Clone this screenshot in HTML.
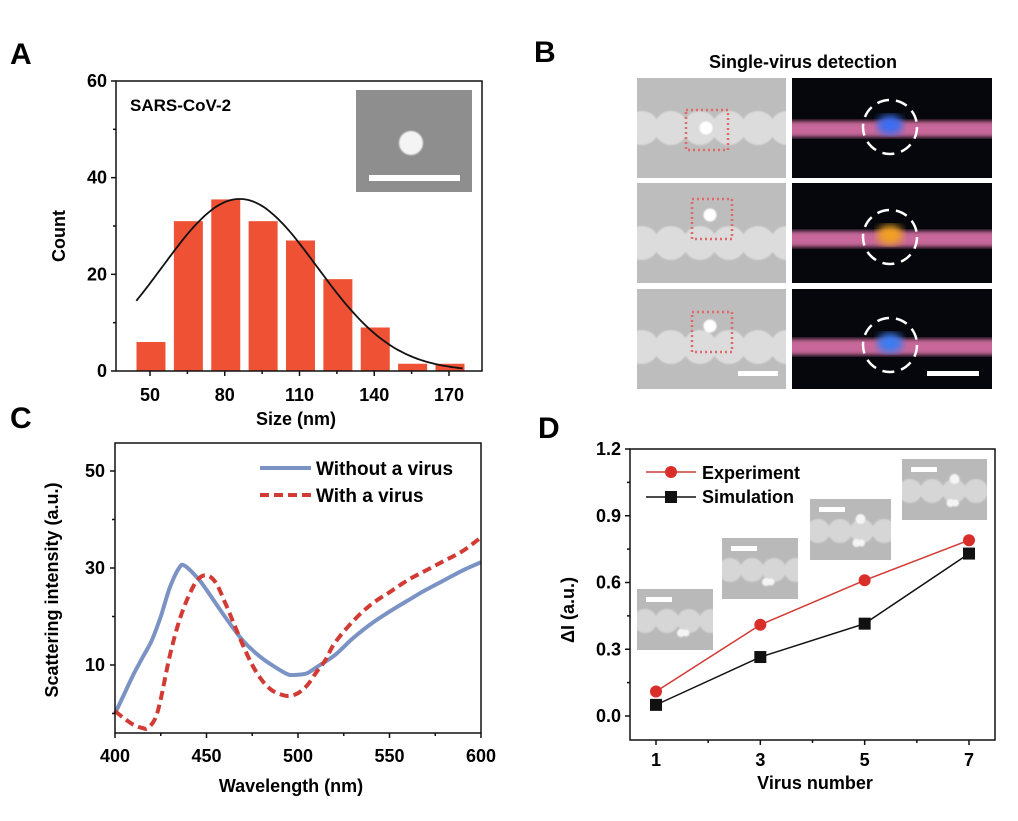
<!DOCTYPE html>
<html><head><meta charset="utf-8">
<style>
html,body{margin:0;padding:0;background:#fff;}
svg{display:block;font-family:"Liberation Sans",Arial,sans-serif;font-weight:bold;}
</style></head>
<body>
<svg id="fig" width="1018" height="821" viewBox="0 0 1018 821" xmlns="http://www.w3.org/2000/svg">
<defs>
<filter id="blur2"><feGaussianBlur stdDeviation="2"/></filter>
<filter id="blur4"><feGaussianBlur stdDeviation="4"/></filter>
<filter id="blur1"><feGaussianBlur stdDeviation="0.8"/></filter>
</defs>
<rect width="1018" height="821" fill="#fff"/>
<text x="10" y="64" font-size="30">A</text>
<text x="534" y="62" font-size="30">B</text>
<text x="10" y="428" font-size="30">C</text>
<text x="538" y="438" font-size="30">D</text>
<g id="pa"></g>
<g id="pb"></g>
<g id="pc"></g>
<g id="pd"></g>
</svg>
<script>
// ---------- Panel A data ----------
const sizeBins = [50, 65, 80, 95, 110, 125, 140, 155, 170];
const sizeCounts = [6, 31, 35.5, 31, 27, 19, 9, 1.5, 1.5];
const sizeTicks = [50, 80, 110, 140, 170];
const countTicks = [0, 20, 40, 60];
const fitMean = [86];
const fitSigma = [31];
const fitAmp = [35.6];
// ---------- Panel C data ----------
const wlBlue = [400,405,410,415,420,425,430,435,438,445,450,460,470,480,490,495,500,505,510,520,530,540,550,560,570,580,590,600];
const intBlue = [0,4,8,11.5,15,20,26,30,30.5,28,25.5,20,15,11.5,9,8,8,8.3,9.5,12,15.5,18.5,21,23.3,25.5,27.5,29.5,31.2];
const wlRed = [400,405,410,415,418,422,425,430,435,440,445,450,455,460,465,470,475,480,485,490,495,500,505,510,515,520,530,540,550,560,570,580,590,600];
const intRed = [0.5,-1,-2.3,-3,-3,-1,3,12,19,24,27.5,28.5,27,23,18.5,14,10,7,5,4,3.6,4.2,5.8,8.5,11,14.5,19,22.5,25,27.5,29.5,31.5,33.5,36.3];
const wlTicks = [400,450,500,550,600];
const intTicks = [10,30,50];
// ---------- Panel D data ----------
const virusNumbers = [1,3,5,7];
const experimentVals = [0.11,0.41,0.61,0.79];
const simulationVals = [0.05,0.265,0.415,0.73];
const dTicksX = [1,3,5,7];
const dTicksY = [0.0,0.3,0.6,0.9,1.2];
const dTickLabelsY = ["0.0","0.3","0.6","0.9","1.2"];

const NS = "http://www.w3.org/2000/svg";
function mk(parent, tag, attrs, text){
  const e = document.createElementNS(NS, tag);
  for (const k in attrs) e.setAttribute(k, attrs[k]);
  if (text !== undefined) e.textContent = text;
  parent.appendChild(e);
  return e;
}
function smooth(pts){
  let d='M'+pts[0][0].toFixed(1)+','+pts[0][1].toFixed(1);
  for(let i=0;i<pts.length-1;i++){
    const p0=pts[Math.max(0,i-1)],p1=pts[i],p2=pts[i+1],p3=pts[Math.min(pts.length-1,i+2)];
    const c1=[p1[0]+(p2[0]-p0[0])/6,p1[1]+(p2[1]-p0[1])/6];
    const c2=[p2[0]-(p3[0]-p1[0])/6,p2[1]-(p3[1]-p1[1])/6];
    d+='C'+c1[0].toFixed(1)+','+c1[1].toFixed(1)+' '+c2[0].toFixed(1)+','+c2[1].toFixed(1)+' '+p2[0].toFixed(1)+','+p2[1].toFixed(1);
  }
  return d;
}
let clipId=0;
function clipRect(x,y,w,h){
  const defs=document.querySelector('defs');
  const id='cl'+(clipId++);
  const cp=mk(defs,'clipPath',{id:id});
  mk(cp,'rect',{x:x,y:y,width:w,height:h});
  return 'url(#'+id+')';
}

// ===== Panel A =====
(function(){
  const g = document.getElementById('pa');
  const L=116,R=482,T=81,B=371;
  const x = v => 150 + (v-50)*(299/120);
  const y = v => B - v*(B-T)/60;
  const bw = 29;
  sizeBins.forEach((c,i)=>{
    const r = mk(g,'rect',{x:x(c)-bw/2+1,y:y(sizeCounts[i]),width:bw,height:B-y(sizeCounts[i]),fill:'#ee5134'});
    
    
  });
  let d='';
  for(let v=44.5; v<=176; v+=1){
    const c = fitAmp[0]*Math.exp(-Math.pow(v-fitMean[0],2)/(2*fitSigma[0]*fitSigma[0]));
    d += (d?'L':'M')+x(v).toFixed(1)+','+y(c).toFixed(1);
  }
  const p = mk(g,'path',{d:d,fill:'none',stroke:'#111','stroke-width':1.8});
  
  
  const f = mk(g,'rect',{x:L,y:T,width:R-L,height:B-T,fill:'none',stroke:'#111','stroke-width':1.5});
  
  
  countTicks.forEach(t=>{
    mk(g,'line',{x1:L-5,x2:L,y1:y(t),y2:y(t),stroke:'#111','stroke-width':1.5});
    const tl = mk(g,'text',{x:L-9,y:y(t)+6,'text-anchor':'end','font-size':18},t);
    
    
  });
  [10,30,50].forEach(t=>mk(g,'line',{x1:L-3,x2:L,y1:y(t),y2:y(t),stroke:'#111','stroke-width':1.5}));
  sizeTicks.forEach(t=>{
    mk(g,'line',{x1:x(t),x2:x(t),y1:B,y2:B+5,stroke:'#111','stroke-width':1.5});
    const tl = mk(g,'text',{x:x(t),y:B+30,'text-anchor':'middle','font-size':18},t);
    
    
  });
  [65,95,125,155].forEach(t=>mk(g,'line',{x1:x(t),x2:x(t),y1:B,y2:B+3,stroke:'#111','stroke-width':1.5}));
  const xt = mk(g,'text',{x:296,y:425,'text-anchor':'middle','font-size':18},'Size (nm)');
  
  
  const yt = mk(g,'text',{x:0,y:0,'text-anchor':'middle','font-size':18,transform:'translate(65,236) rotate(-90)'},'Count');
  
  
  const lb = mk(g,'text',{x:130,y:111,'font-size':17},'SARS-CoV-2');
  
  
  const ins = mk(g,'g',{});
  
  
  mk(ins,'rect',{x:356,y:90,width:116,height:102,fill:'#8e8e8e'});
  mk(ins,'circle',{cx:411,cy:143,r:12,fill:'#f4f4f4',filter:'url(#blur1)'});
  mk(ins,'rect',{x:369,y:175,width:91,height:6,fill:'#fff'});
})();

// ===== Panel B =====
(function(){
  const g = document.getElementById('pb');
  const t = mk(g,'text',{x:803,y:68,'text-anchor':'middle','font-size':18},'Single-virus detection');
  
  
  const rows=[[78,178],[183,283],[289,389]];
  const virus=[{vx:706,vy:128,bx:686,by:110,bw:42,bh:40,col:'#3a6df0'},{vx:710,vy:215,bx:692,by:199,bw:40,bh:40,col:'#f0a020'},{vx:710,vy:326,bx:692,by:312,bw:40,bh:40,col:'#3a7cf0'}];
  rows.forEach((r,i)=>{
    const y0=r[0],h=r[1]-r[0];const cy=y0+50;
    const sem = mk(g,'g',{'clip-path':clipRect(637,y0,149,h)});
    
    
    mk(sem,'rect',{x:637,y:y0,width:149,height:h,fill:'#bdbdbd'});
    const bg=mk(sem,'g',{filter:'url(#blur1)'});
    for(let k=-1;k<7;k++){ const cx=642+k*29; mk(bg,'circle',{cx:cx,cy:cy+(i===0?0:(i===1?10:8)),r:17,fill:'#dcdcdc'}); }
    mk(bg,'circle',{cx:virus[i].vx,cy:virus[i].vy,r:6.5,fill:'#fff'});
    mk(sem,'rect',{x:virus[i].bx,y:virus[i].by,width:virus[i].bw,height:virus[i].bh,fill:'none',stroke:'#e06868','stroke-width':2.5,'stroke-dasharray':'2 3'});
    const df = mk(g,'g',{'clip-path':clipRect(792,y0,200,h)});
    
    
    mk(df,'rect',{x:792,y:y0,width:200,height:h,fill:'#06070d'});
    const by = cy+ (i===0?1:(i===1?6:8));
    mk(df,'rect',{x:780,y:by-8,width:230,height:16,fill:'#c8689a',filter:'url(#blur2)'});
    mk(df,'ellipse',{cx:890,cy:by-4,rx:13,ry:10,fill:virus[i].col,filter:'url(#blur4)'});
    mk(df,'circle',{cx:890,cy:by-2,r:27,fill:'none',stroke:'#fff','stroke-width':2.5,'stroke-dasharray':'12 7'});
  });
  mk(g,'rect',{x:738,y:371,width:40,height:5,fill:'#fff'});
  mk(g,'rect',{x:927,y:371,width:52,height:5,fill:'#fff'});
})();

// ===== Panel C =====
(function(){
  const g = document.getElementById('pc');
  const L=115,R=481,T=443,B=733;
  const x = v => L + (v-400)*(R-L)/200;
  const y = v => 665 - (v-10)*4.85;
  const line=(xs,ys)=>smooth(xs.map((v,i)=>[x(v),y(ys[i])]));
  const pb = mk(g,'path',{d:line(wlBlue,intBlue),fill:'none',stroke:'#7b93c4','stroke-width':4,'stroke-linejoin':'round'});
  
  
  const pr = mk(g,'path',{d:line(wlRed,intRed),fill:'none',stroke:'#d23a34','stroke-width':4,'stroke-dasharray':'9 5'});
  
  
  const f = mk(g,'rect',{x:L,y:T,width:R-L,height:B-T,fill:'none',stroke:'#111','stroke-width':1.5});
  
  
  intTicks.forEach(t=>{
    mk(g,'line',{x1:L-5,x2:L,y1:y(t),y2:y(t),stroke:'#111','stroke-width':1.5});
    const tl = mk(g,'text',{x:L-10,y:y(t)+6,'text-anchor':'end','font-size':18},t);
    
    
  });
  [0,20,40].forEach(t=>mk(g,'line',{x1:L-3,x2:L,y1:y(t),y2:y(t),stroke:'#111','stroke-width':1.5}));
  wlTicks.forEach(t=>{
    mk(g,'line',{x1:x(t),x2:x(t),y1:B,y2:B+5,stroke:'#111','stroke-width':1.5});
    const tl = mk(g,'text',{x:x(t),y:762,'text-anchor':'middle','font-size':18},t);
    
    
  });
  [425,475,525,575].forEach(t=>mk(g,'line',{x1:x(t),x2:x(t),y1:B,y2:B+3,stroke:'#111','stroke-width':1.5}));
  const xt = mk(g,'text',{x:291,y:792,'text-anchor':'middle','font-size':18},'Wavelength (nm)');
  
  
  const yt = mk(g,'text',{x:0,y:0,'text-anchor':'middle','font-size':18,transform:'translate(58,590) rotate(-90)'},'Scattering intensity (a.u.)');
  
  
  const l1 = mk(g,'g',{});
  
  
  mk(l1,'line',{x1:260,x2:311,y1:468,y2:468,stroke:'#7b93c4','stroke-width':4});
  mk(l1,'text',{x:316,y:475,'font-size':19},'Without a virus');
  const l2 = mk(g,'g',{});
  
  
  mk(l2,'line',{x1:260,x2:311,y1:495,y2:495,stroke:'#d23a34','stroke-width':4,'stroke-dasharray':'9 5'});
  mk(l2,'text',{x:316,y:502,'font-size':19},'With a virus');
})();

// ===== Panel D =====
(function(){
  const g = document.getElementById('pd');
  const L=630,R=995,T=449,B=740;
  const x = v => 656 + (v-1)*(313/6);
  const y = v => 716 - v*(267/1.2);
  const insets=[[637,589,76,61],[722,538,76,61],[810,499,81,61],[902,459,85,61]];
  insets.forEach((s,i)=>{
    const ig = mk(g,'g',{'clip-path':clipRect(s[0],s[1],s[2],s[3])});
    
    
    mk(ig,'rect',{x:s[0],y:s[1],width:s[2],height:s[3],fill:'#b9b9b9'});
    const bl = mk(ig,'g',{filter:'url(#blur1)'});
    for(let k=0;k<4;k++) mk(bl,'circle',{cx:s[0]+8+k*22,cy:s[1]+32,r:12,fill:'#d6d6d6'});
    mk(bl,'circle',{cx:s[0]+s[2]/2+6,cy:s[1]+44,r:4,fill:'#f5f5f5'});
    mk(bl,'circle',{cx:s[0]+s[2]/2+11,cy:s[1]+44,r:3.5,fill:'#f5f5f5'});
    if(i>=2){ mk(bl,'circle',{cx:s[0]+s[2]/2+10,cy:s[1]+20,r:5,fill:'#f5f5f5'}); }
    mk(ig,'rect',{x:s[0]+9,y:s[1]+8,width:26,height:5,fill:'#fff'});
  });
  const le = mk(g,'path',{d:virusNumbers.map((v,i)=>(i?'L':'M')+x(v)+','+y(experimentVals[i])).join(''),fill:'none',stroke:'#d23a34','stroke-width':1.5});
  
  
  const ls = mk(g,'path',{d:virusNumbers.map((v,i)=>(i?'L':'M')+x(v)+','+y(simulationVals[i])).join(''),fill:'none',stroke:'#111','stroke-width':1.5});
  
  
  virusNumbers.forEach((v,i)=>{
    const c = mk(g,'circle',{cx:x(v),cy:y(experimentVals[i]),r:6,fill:'#d92e2a'});
    
    
    const s = mk(g,'rect',{x:x(v)-6,y:y(simulationVals[i])-6,width:12,height:12,fill:'#111'});
    
    
  });
  const f = mk(g,'rect',{x:L,y:T,width:R-L,height:B-T,fill:'none',stroke:'#111','stroke-width':1.5});
  
  
  dTicksY.forEach((t,i)=>{
    mk(g,'line',{x1:L-5,x2:L,y1:y(t),y2:y(t),stroke:'#111','stroke-width':1.5});
    const tl = mk(g,'text',{x:L-9,y:y(t)+6,'text-anchor':'end','font-size':18},dTickLabelsY[i]);
    
    
  });
  [0.15,0.45,0.75,1.05].forEach(t=>mk(g,'line',{x1:L-3,x2:L,y1:y(t),y2:y(t),stroke:'#111','stroke-width':1.5}));
  dTicksX.forEach(t=>{
    mk(g,'line',{x1:x(t),x2:x(t),y1:B,y2:B+5,stroke:'#111','stroke-width':1.5});
    const tl = mk(g,'text',{x:x(t),y:766,'text-anchor':'middle','font-size':18},t);
    
    
  });
  [2,4,6].forEach(t=>mk(g,'line',{x1:x(t),x2:x(t),y1:B,y2:B+3,stroke:'#111','stroke-width':1.5}));
  const xt = mk(g,'text',{x:815,y:789,'text-anchor':'middle','font-size':18},'Virus number');
  
  
  const yt = mk(g,'text',{x:0,y:0,'text-anchor':'middle','font-size':18,transform:'translate(574,610) rotate(-90)'},'ΔI (a.u.)');
  
  
  const l1 = mk(g,'g',{});
  
  
  mk(l1,'line',{x1:646,x2:696,y1:472,y2:472,stroke:'#d23a34','stroke-width':1.5});
  mk(l1,'circle',{cx:671,cy:472,r:6,fill:'#d92e2a'});
  mk(l1,'text',{x:702,y:479,'font-size':18},'Experiment');
  const l2 = mk(g,'g',{});
  
  
  mk(l2,'line',{x1:646,x2:696,y1:497,y2:497,stroke:'#111','stroke-width':1.5});
  mk(l2,'rect',{x:665,y:491,width:12,height:12,fill:'#111'});
  mk(l2,'text',{x:702,y:503,'font-size':18},'Simulation');
})();
</script>
</body></html>
